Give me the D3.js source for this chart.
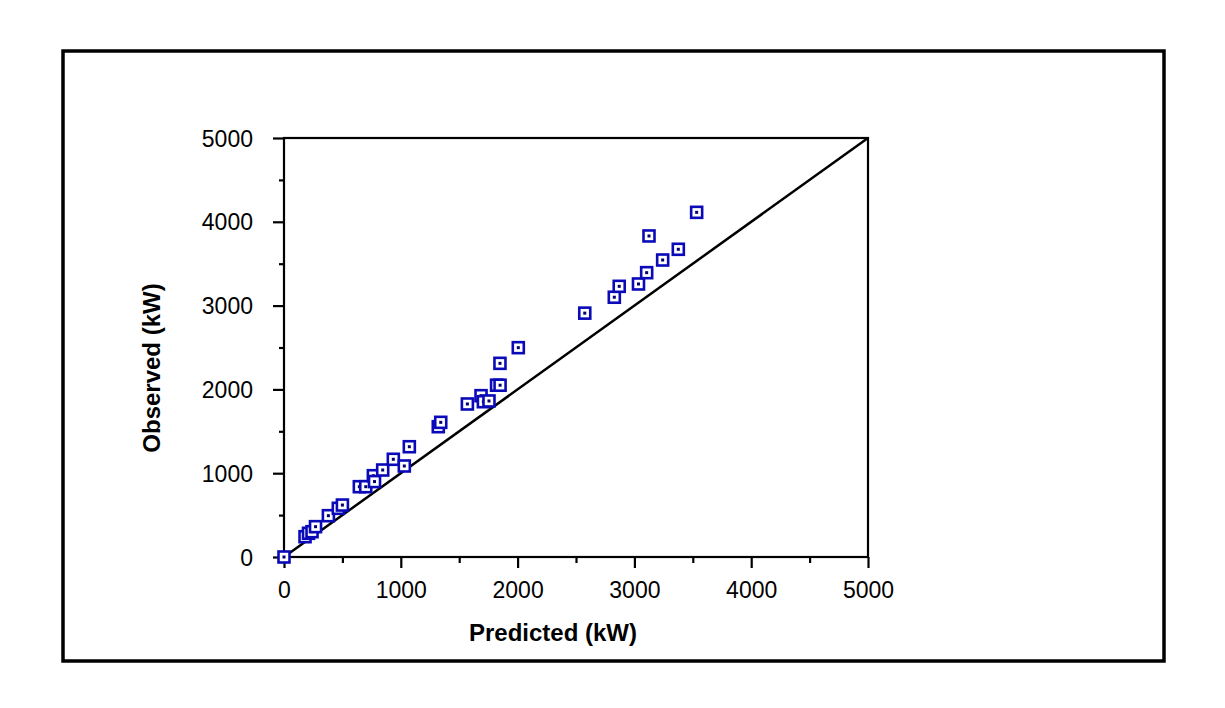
<!DOCTYPE html>
<html>
<head>
<script src="https://d3js.org/d3.v7.min.js"></script>
<style>
  body { margin: 0; background: #fff; }
  svg { font-family: 'Liberation Sans', Arial, sans-serif; }
</style>
</head>
<body>
<div id="container"></div>
<script>
  // values (kW)
  const predicted = [0, 180, 210, 240, 270, 380, 465, 500, 645, 700, 765, 775, 845, 936, 1030, 1073,
    1321, 1342, 1570, 1687, 1707, 1755, 1820, 1850, 1849, 2006, 2575, 2828, 2870, 3035, 3105,
    3125, 3242, 3376, 3533];
  const observed = [0, 242, 283, 302, 362, 493, 581, 620, 839, 839, 970, 900, 1038, 1166, 1086, 1316,
    1555, 1607, 1826, 1925, 1853, 1862, 2050, 2050, 2311, 2498, 2910, 3100, 3230, 3258, 3393,
    3831, 3544, 3672, 4113];
  const tickVals = d3.range(0, 5001, 500);
  const domainMax = 5000;

  const width = 1225, height = 708;
  const svg = d3.select("#container").append("svg")
    .attr("width", width).attr("height", height);

  // outer frame
  svg.append("rect")
    .attr("x", 63).attr("y", 51).attr("width", 1101).attr("height", 610)
    .attr("fill", "none").attr("stroke", "#000").attr("stroke-width", 3.5);

  const x = d3.scaleLinear().domain([0, domainMax]).range([284, 868]);
  const y = d3.scaleLinear().domain([0, domainMax]).range([557, 138]);

  // plot box
  svg.append("rect")
    .attr("x", x(0)).attr("y", y(domainMax))
    .attr("width", x(domainMax) - x(0)).attr("height", y(0) - y(domainMax))
    .attr("fill", "none").attr("stroke", "#000").attr("stroke-width", 2.2);

  const fmt = d => d % 1000 ? "" : d;

  const gx = svg.append("g").attr("transform", `translate(0,${y(0)})`)
    .call(d3.axisBottom(x).tickValues(tickVals).tickFormat(fmt).tickSizeOuter(0));
  gx.select(".domain").remove();
  gx.selectAll(".tick line")
    .attr("y2", d => d % 1000 ? 6 : 11)
    .attr("stroke-width", 2.2);
  gx.selectAll(".tick text")
    .attr("y", 33).attr("dy", "0.35em")
    .attr("font-size", 23).attr("fill", "#000");

  const gy = svg.append("g").attr("transform", `translate(${x(0)},0)`)
    .call(d3.axisLeft(y).tickValues(tickVals).tickFormat(fmt).tickSizeOuter(0));
  gy.select(".domain").remove();
  gy.selectAll(".tick line")
    .attr("x2", d => d % 1000 ? -5 : -11)
    .attr("stroke-width", 2.2);
  gy.selectAll(".tick text")
    .attr("x", -31).attr("dy", "0.35em")
    .attr("font-size", 23).attr("fill", "#000");
  svg.selectAll(".tick text").attr("font-family", null);
  svg.selectAll("g").attr("font-family", null);

  // 1:1 line
  svg.append("line")
    .attr("x1", x(0)).attr("y1", y(0))
    .attr("x2", x(domainMax)).attr("y2", y(domainMax))
    .attr("stroke", "#000").attr("stroke-width", 2.5);

  // points
  const pts = predicted.map((p, i) => ({ p: p, o: observed[i] }));
  const mk = svg.append("g").selectAll("g")
    .data(pts).join("g")
    .attr("transform", d => `translate(${x(d.p)},${y(d.o)})`);
  mk.append("rect")
    .attr("x", -5.5).attr("y", -5.5).attr("width", 11).attr("height", 11)
    .attr("fill", "#fff").attr("stroke", "#0a0ab8").attr("stroke-width", 2.6);
  mk.append("rect")
    .attr("x", -1.5).attr("y", -1.5).attr("width", 3).attr("height", 3)
    .attr("fill", "#000070");

  // axis titles
  svg.append("text")
    .attr("x", 553).attr("y", 633).attr("dy", "0.35em")
    .attr("text-anchor", "middle")
    .attr("font-size", 24).attr("font-weight", "bold")
    .text("Predicted (kW)");

  svg.append("text")
    .attr("transform", "translate(152,368) rotate(-90)")
    .attr("dy", "0.35em")
    .attr("text-anchor", "middle")
    .attr("font-size", 24).attr("font-weight", "bold")
    .text("Observed (kW)");
</script>
</body>
</html>
